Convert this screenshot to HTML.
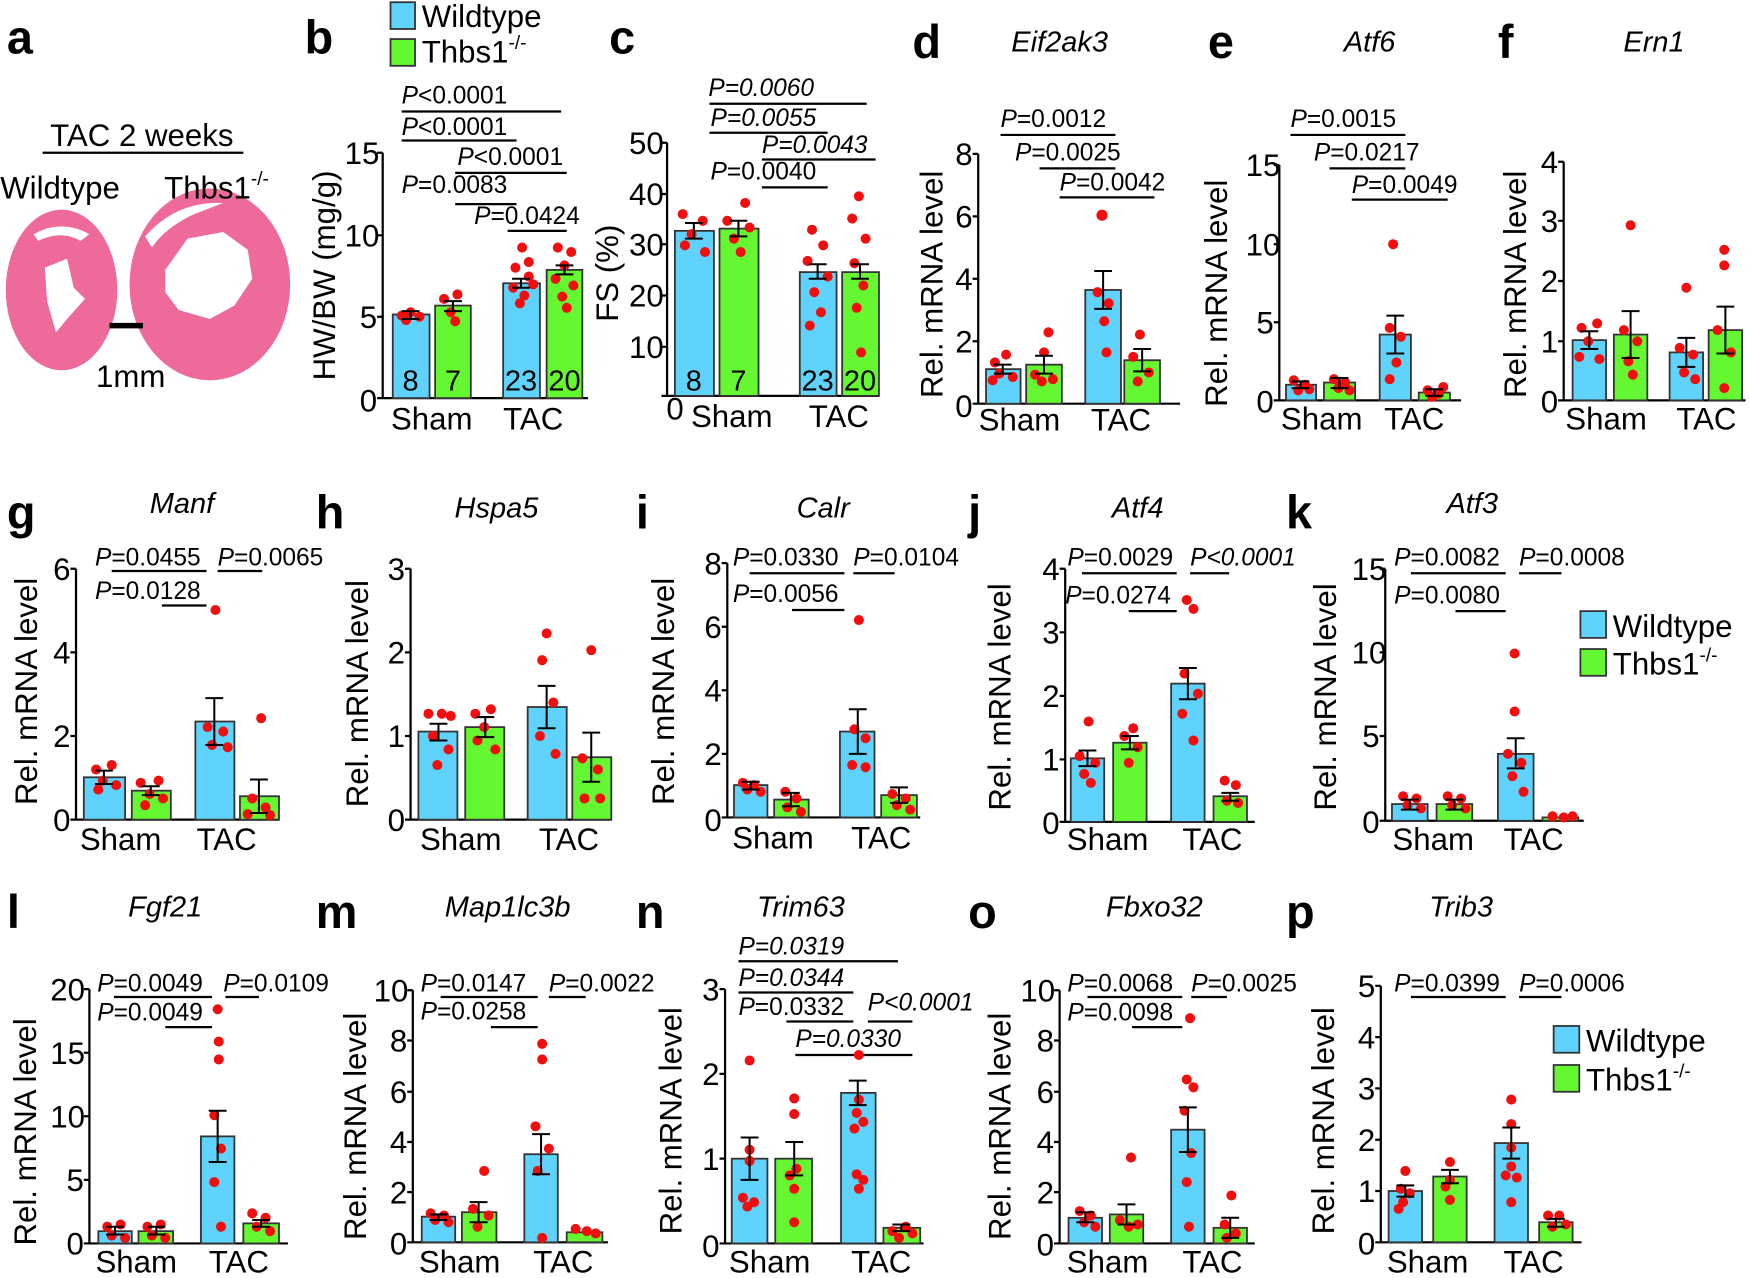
<!DOCTYPE html>
<html><head><meta charset="utf-8"><style>
html,body{margin:0;padding:0;background:#fff}
svg{display:block}
text{font-family:"Liberation Sans",Arial,sans-serif;fill:#000}
.L{font-size:42px;font-weight:bold}
.tk{font-size:28px;text-anchor:end}
.ct{font-size:28px;text-anchor:middle}
.yl{font-size:28px;text-anchor:middle}
.ti{font-size:26px;font-style:italic;text-anchor:middle}
.pv{font-size:22px}
.nn{font-size:26px;text-anchor:middle}
.lg{font-size:28px}
.w{fill:#5fd3fb;stroke:#333;stroke-width:1.6}
.k{fill:#66f733;stroke:#333;stroke-width:1.6}
.ax{stroke:#000;stroke-width:2;fill:none}
.sl{stroke:#000;stroke-width:2}
.eb{stroke:#000;stroke-width:1.8;fill:none}
circle{fill:#f00e0e}
</style></head><body>
<svg width="1749" height="1278" viewBox="0 0 1568 1146" xmlns="http://www.w3.org/2000/svg">

<!-- a -->
<ellipse cx="55" cy="260" rx="50" ry="72" fill="#ee6a9a"/>
<path d="M40 240 L60 232 L66 258 L76 268 L60 286 L50 298 L42 270 Z" fill="#fff"/>
<path d="M30 210 Q55 196 80 210 L72 216 Q55 206 34 216Z" fill="#fff"/>
<ellipse cx="188" cy="255" rx="72" ry="86" fill="#ee6a9a"/>
<path d="M148 242 L168 214 L200 208 L222 224 L226 250 L210 274 L188 286 L160 278 L148 262 Z" fill="#fff"/>
<path d="M130 212 Q158 180 200 182 L174 192 Q148 204 136 222Z" fill="#fff"/>
<text class="L" x="6" y="48">a</text>
<text x="127" y="131" font-size="28" text-anchor="middle">TAC 2 weeks</text>
<line x1="38" y1="137" x2="218" y2="137" class="sl"/>
<text x="0" y="178" font-size="28">Wildtype</text>
<text x="147" y="178" font-size="28">Thbs1<tspan font-size="17" dy="-12">-/-</tspan></text>
<line x1="98" y1="292" x2="128" y2="292" stroke="#000" stroke-width="5"/>
<text x="117" y="347" font-size="28" text-anchor="middle">1mm</text>

<!-- b -->
<text class="L" x="273" y="48">b</text>
<rect x="350" y="2" width="22" height="24" class="w"/><text class="lg" x="378" y="24">Wildtype</text>
<rect x="350" y="35" width="22" height="24" class="k"/><text class="lg" x="378" y="56">Thbs1<tspan font-size="17" dy="-12">-/-</tspan></text>
<text class="pv" x="360" y="93"><tspan font-style="italic">P</tspan>&lt;0.0001</text><line x1="360" y1="100" x2="503" y2="100" class="sl"/>
<text class="pv" x="360" y="121"><tspan font-style="italic">P</tspan>&lt;0.0001</text><line x1="360" y1="126" x2="463" y2="126" class="sl"/>
<text class="pv" x="410" y="148"><tspan font-style="italic">P</tspan>&lt;0.0001</text><line x1="408" y1="155" x2="508" y2="155" class="sl"/>
<text class="pv" x="360" y="173"><tspan font-style="italic">P</tspan>=0.0083</text><line x1="408" y1="183" x2="463" y2="183" class="sl"/>
<text class="pv" x="425" y="201"><tspan font-style="italic">P</tspan>=0.0424</text><line x1="455" y1="207" x2="508" y2="207" class="sl"/>
<path class="ax" d="M343 137 V357 H527 M338 137 H343 M338 211 H343 M338 284 H343 M338 357 H343"/>
<text class="tk" x="340" y="147">15</text><text class="tk" x="340" y="221">10</text><text class="tk" x="338" y="294">5</text><text class="tk" x="338" y="369">0</text>
<text class="yl" transform="translate(300,247) rotate(-90)">HW/BW (mg/g)</text>
<rect x="352" y="282" width="33" height="75" class="w"/><rect x="390" y="274" width="32" height="83" class="k"/>
<rect x="451" y="254" width="33" height="103" class="w"/><rect x="490" y="242" width="32" height="115" class="k"/>
<text class="nn" x="368" y="350">8</text><text class="nn" x="406" y="350">7</text><text class="nn" x="467" y="350">23</text><text class="nn" x="506" y="350">20</text>
<circle cx="360" cy="283" r="4.5"/><circle cx="368" cy="280" r="4.5"/><circle cx="376" cy="284" r="4.5"/><circle cx="364" cy="287" r="4.5"/>
<circle cx="398" cy="268" r="4.5"/><circle cx="410" cy="264" r="4.5"/><circle cx="404" cy="280" r="4.5"/><circle cx="408" cy="288" r="4.5"/>
<circle cx="468" cy="222" r="4.5"/><circle cx="462" cy="240" r="4.5"/><circle cx="474" cy="248" r="4.5"/><circle cx="460" cy="258" r="4.5"/><circle cx="470" cy="265" r="4.5"/><circle cx="478" cy="255" r="4.5"/><circle cx="466" cy="272" r="4.5"/><circle cx="474" cy="235" r="4.5"/>
<circle cx="500" cy="222" r="4.5"/><circle cx="512" cy="226" r="4.5"/><circle cx="506" cy="238" r="4.5"/><circle cx="498" cy="250" r="4.5"/><circle cx="514" cy="256" r="4.5"/><circle cx="504" cy="266" r="4.5"/><circle cx="508" cy="276" r="4.5"/>
<path class="eb" d="M368 279 V286 M360 279 H376 M360 286 H376 M406 270 V279 M398 270 H414 M398 279 H414 M467 250 V258 M459 250 H475 M459 258 H475 M506 238 V246 M498 238 H514 M498 246 H514"/>
<text class="ct" x="387" y="385">Sham</text><text class="ct" x="478" y="385">TAC</text>

<!-- c -->
<text class="L" x="546" y="48">c</text>
<text class="pv" x="635" y="86" font-style="italic">P=0.0060</text><line x1="636" y1="93" x2="777" y2="93" class="sl"/>
<text class="pv" x="637" y="113" font-style="italic">P=0.0055</text><line x1="636" y1="119" x2="742" y2="119" class="sl"/>
<text class="pv" x="683" y="137" font-style="italic">P=0.0043</text><line x1="683" y1="143" x2="785" y2="143" class="sl"/>
<text class="pv" x="637" y="161"><tspan font-style="italic">P</tspan>=0.0040</text><line x1="683" y1="168" x2="742" y2="168" class="sl"/>
<path class="ax" d="M598 128 V355 H788 M593 128 H598 M593 174 H598 M593 219 H598 M593 265 H598 M593 311 H598 M593 355 H598"/>
<text class="tk" x="595" y="138">50</text><text class="tk" x="595" y="184">40</text><text class="tk" x="595" y="229">30</text><text class="tk" x="595" y="275">20</text><text class="tk" x="595" y="321">10</text><text class="tk" x="613" y="376">0</text>
<text class="yl" transform="translate(554,245) rotate(-90)">FS (%)</text>
<rect x="605" y="207" width="35" height="148" class="w"/><rect x="645" y="205" width="35" height="150" class="k"/>
<rect x="717" y="244" width="33" height="111" class="w"/><rect x="755" y="244" width="33" height="111" class="k"/>
<text class="nn" x="622" y="350">8</text><text class="nn" x="662" y="350">7</text><text class="nn" x="733" y="350">23</text><text class="nn" x="771" y="350">20</text>
<circle cx="612" cy="192" r="4.5"/><circle cx="630" cy="198" r="4.5"/><circle cx="620" cy="210" r="4.5"/><circle cx="614" cy="220" r="4.5"/><circle cx="632" cy="226" r="4.5"/>
<circle cx="652" cy="198" r="4.5"/><circle cx="668" cy="182" r="4.5"/><circle cx="672" cy="204" r="4.5"/><circle cx="658" cy="214" r="4.5"/><circle cx="664" cy="226" r="4.5"/>
<circle cx="728" cy="206" r="4.5"/><circle cx="738" cy="220" r="4.5"/><circle cx="724" cy="234" r="4.5"/><circle cx="742" cy="248" r="4.5"/><circle cx="730" cy="262" r="4.5"/><circle cx="736" cy="280" r="4.5"/><circle cx="726" cy="292" r="4.5"/>
<circle cx="770" cy="176" r="4.5"/><circle cx="764" cy="196" r="4.5"/><circle cx="776" cy="214" r="4.5"/><circle cx="766" cy="236" r="4.5"/><circle cx="774" cy="256" r="4.5"/><circle cx="768" cy="276" r="4.5"/><circle cx="772" cy="316" r="4.5"/>
<path class="eb" d="M622 200 V214 M614 200 H630 M614 214 H630 M662 198 V212 M654 198 H670 M654 212 H670 M733 237 V250 M725 237 H741 M725 250 H741 M771 237 V250 M763 237 H779 M763 250 H779"/>
<text class="ct" x="656" y="383">Sham</text><text class="ct" x="752" y="383">TAC</text>

<!-- d -->
<text class="L" x="818" y="52">d</text><text class="ti" x="950" y="46">Eif2ak3</text>
<text class="pv" x="897" y="114"><tspan font-style="italic">P</tspan>=0.0012</text><line x1="897" y1="121" x2="1000" y2="121" class="sl"/>
<text class="pv" x="910" y="144"><tspan font-style="italic">P</tspan>=0.0025</text><line x1="932" y1="151" x2="1000" y2="151" class="sl"/>
<text class="pv" x="950" y="171"><tspan font-style="italic">P</tspan>=0.0042</text><line x1="950" y1="177" x2="1035" y2="177" class="sl"/>
<path class="ax" d="M877 138 V362 H1058 M872 138 H877 M872 194 H877 M872 250 H877 M872 306 H877 M872 362 H877"/>
<text class="tk" x="872" y="148">8</text><text class="tk" x="872" y="204">6</text><text class="tk" x="872" y="260">4</text><text class="tk" x="872" y="316">2</text><text class="tk" x="872" y="374">0</text>
<text class="yl" transform="translate(845,255) rotate(-90)">Rel. mRNA level</text>
<rect x="884" y="331" width="31" height="31" class="w"/><rect x="920" y="327" width="32" height="35" class="k"/>
<rect x="973" y="260" width="32" height="102" class="w"/><rect x="1008" y="323" width="32" height="39" class="k"/>
<circle cx="892" cy="325" r="4.5"/><circle cx="902" cy="318" r="4.5"/><circle cx="896" cy="335" r="4.5"/><circle cx="908" cy="338" r="4.5"/><circle cx="890" cy="341" r="4.5"/>
<circle cx="940" cy="298" r="4.5"/><circle cx="936" cy="316" r="4.5"/><circle cx="928" cy="336" r="4.5"/><circle cx="944" cy="340" r="4.5"/><circle cx="934" cy="342" r="4.5"/>
<circle cx="988" cy="193" r="5"/><circle cx="984" cy="262" r="4.5"/><circle cx="994" cy="272" r="4.5"/><circle cx="990" cy="288" r="4.5"/><circle cx="992" cy="316" r="4.5"/>
<circle cx="1022" cy="300" r="4.5"/><circle cx="1016" cy="320" r="4.5"/><circle cx="1030" cy="334" r="4.5"/><circle cx="1020" cy="342" r="4.5"/>
<path class="eb" d="M899 327 V335 M891 327 H907 M891 335 H907 M936 319 V335 M928 319 H944 M928 335 H944 M989 243 V277 M981 243 H997 M981 277 H997 M1024 313 V333 M1016 313 H1032 M1016 333 H1032"/>
<text class="ct" x="914" y="386">Sham</text><text class="ct" x="1005" y="386">TAC</text>

<!-- e -->
<text class="L" x="1083" y="52">e</text><text class="ti" x="1228" y="46">Atf6</text>
<text class="pv" x="1157" y="114"><tspan font-style="italic">P</tspan>=0.0015</text><line x1="1157" y1="121" x2="1260" y2="121" class="sl"/>
<text class="pv" x="1178" y="144"><tspan font-style="italic">P</tspan>=0.0217</text><line x1="1192" y1="151" x2="1260" y2="151" class="sl"/>
<text class="pv" x="1212" y="173"><tspan font-style="italic">P</tspan>=0.0049</text><line x1="1212" y1="179" x2="1298" y2="179" class="sl"/>
<path class="ax" d="M1147 148 V359 H1310 M1142 148 H1147 M1142 219 H1147 M1142 289 H1147 M1142 359 H1147"/>
<text class="tk" x="1148" y="158">15</text><text class="tk" x="1148" y="229">10</text><text class="tk" x="1142" y="299">5</text><text class="tk" x="1142" y="370">0</text>
<text class="yl" transform="translate(1100,263) rotate(-90)">Rel. mRNA level</text>
<rect x="1153" y="345" width="27" height="14" class="w"/><rect x="1187" y="343" width="28" height="16" class="k"/>
<rect x="1237" y="300" width="28" height="59" class="w"/><rect x="1272" y="352" width="28" height="7" class="k"/>
<circle cx="1160" cy="341" r="4.5"/><circle cx="1170" cy="345" r="4.5"/><circle cx="1164" cy="350" r="4.5"/><circle cx="1174" cy="349" r="4.5"/>
<circle cx="1196" cy="340" r="4.5"/><circle cx="1206" cy="343" r="4.5"/><circle cx="1200" cy="348" r="4.5"/><circle cx="1210" cy="350" r="4.5"/>
<circle cx="1249" cy="219" r="4.5"/><circle cx="1246" cy="294" r="4.5"/><circle cx="1256" cy="302" r="4.5"/><circle cx="1252" cy="325" r="4.5"/><circle cx="1246" cy="340" r="4.5"/>
<circle cx="1280" cy="350" r="4.5"/><circle cx="1290" cy="353" r="4.5"/><circle cx="1284" cy="356" r="4.5"/><circle cx="1294" cy="347" r="4.5"/>
<path class="eb" d="M1166 342 V348 M1158 342 H1174 M1158 348 H1174 M1201 339 V348 M1193 339 H1209 M1193 348 H1209 M1251 283 V317 M1243 283 H1259 M1243 317 H1259 M1286 349 V355 M1278 349 H1294 M1278 355 H1294"/>
<text class="ct" x="1185" y="385">Sham</text><text class="ct" x="1268" y="385">TAC</text>

<!-- f -->
<text class="L" x="1343" y="52">f</text><text class="ti" x="1483" y="46">Ern1</text>
<path class="ax" d="M1402 145 V359 H1565 M1397 145 H1402 M1397 198 H1402 M1397 252 H1402 M1397 306 H1402 M1397 359 H1402"/>
<text class="tk" x="1397" y="155">4</text><text class="tk" x="1397" y="208">3</text><text class="tk" x="1397" y="262">2</text><text class="tk" x="1397" y="316">1</text><text class="tk" x="1397" y="370">0</text>
<text class="yl" transform="translate(1368,255) rotate(-90)">Rel. mRNA level</text>
<rect x="1410" y="305" width="30" height="54" class="w"/><rect x="1447" y="300" width="30" height="59" class="k"/>
<rect x="1497" y="316" width="30" height="43" class="w"/><rect x="1532" y="296" width="30" height="63" class="k"/>
<circle cx="1418" cy="294" r="4.5"/><circle cx="1432" cy="290" r="4.5"/><circle cx="1424" cy="306" r="4.5"/><circle cx="1416" cy="320" r="4.5"/><circle cx="1434" cy="322" r="4.5"/>
<circle cx="1462" cy="202" r="4.5"/><circle cx="1456" cy="296" r="4.5"/><circle cx="1468" cy="306" r="4.5"/><circle cx="1460" cy="324" r="4.5"/><circle cx="1464" cy="336" r="4.5"/>
<circle cx="1512" cy="258" r="4.5"/><circle cx="1506" cy="312" r="4.5"/><circle cx="1518" cy="318" r="4.5"/><circle cx="1510" cy="334" r="4.5"/><circle cx="1520" cy="340" r="4.5"/>
<circle cx="1546" cy="224" r="4.5"/><circle cx="1546" cy="238" r="4.5"/><circle cx="1540" cy="296" r="4.5"/><circle cx="1552" cy="316" r="4.5"/><circle cx="1546" cy="348" r="4.5"/>
<path class="eb" d="M1425 297 V313 M1417 297 H1433 M1417 313 H1433 M1462 279 V321 M1454 279 H1470 M1454 321 H1470 M1512 303 V329 M1504 303 H1520 M1504 329 H1520 M1547 275 V317 M1539 275 H1555 M1539 317 H1555"/>
<text class="ct" x="1440" y="385">Sham</text><text class="ct" x="1530" y="385">TAC</text>

<!-- g -->
<text class="L" x="6" y="474">g</text><text class="ti" x="163" y="460">Manf</text>
<text class="pv" x="85" y="507"><tspan font-style="italic">P</tspan>=0.0455</text><line x1="100" y1="512" x2="185" y2="512" class="sl"/>
<text class="pv" x="85" y="537"><tspan font-style="italic">P</tspan>=0.0128</text><line x1="145" y1="543" x2="185" y2="543" class="sl"/>
<text class="pv" x="195" y="507"><tspan font-style="italic">P</tspan>=0.0065</text><line x1="195" y1="512" x2="235" y2="512" class="sl"/>
<path class="ax" d="M68 510 V735 H250 M63 510 H68 M63 585 H68 M63 660 H68 M63 735 H68"/>
<text class="tk" x="63" y="520">6</text><text class="tk" x="63" y="595">4</text><text class="tk" x="63" y="670">2</text><text class="tk" x="63" y="745">0</text>
<text class="yl" transform="translate(33,620) rotate(-90)">Rel. mRNA level</text>
<rect x="75" y="697" width="37" height="38" class="w"/><rect x="118" y="709" width="35" height="26" class="k"/>
<rect x="175" y="647" width="35" height="88" class="w"/><rect x="215" y="714" width="35" height="21" class="k"/>
<circle cx="86" cy="690" r="4.5"/><circle cx="100" cy="686" r="4.5"/><circle cx="92" cy="700" r="4.5"/><circle cx="104" cy="704" r="4.5"/><circle cx="88" cy="708" r="4.5"/>
<circle cx="126" cy="702" r="4.5"/><circle cx="142" cy="700" r="4.5"/><circle cx="134" cy="712" r="4.5"/><circle cx="146" cy="716" r="4.5"/><circle cx="130" cy="722" r="4.5"/>
<circle cx="193" cy="547" r="4.5"/><circle cx="186" cy="652" r="4.5"/><circle cx="200" cy="656" r="4.5"/><circle cx="190" cy="668" r="4.5"/><circle cx="204" cy="670" r="4.5"/>
<circle cx="234" cy="644" r="4.5"/><circle cx="226" cy="716" r="4.5"/><circle cx="238" cy="724" r="4.5"/><circle cx="222" cy="730" r="4.5"/><circle cx="242" cy="731" r="4.5"/>
<path class="eb" d="M93 691 V703 M85 691 H101 M85 703 H101 M135 705 V713 M127 705 H143 M127 713 H143 M192 626 V668 M184 626 H200 M184 668 H200 M232 699 V729 M224 699 H240 M224 729 H240"/>
<text class="ct" x="108" y="762">Sham</text><text class="ct" x="203" y="762">TAC</text>

<!-- h -->
<text class="L" x="283" y="474">h</text><text class="ti" x="445" y="464">Hspa5</text>
<path class="ax" d="M368 510 V735 H548 M363 510 H368 M363 585 H368 M363 660 H368 M363 735 H368"/>
<text class="tk" x="363" y="520">3</text><text class="tk" x="363" y="595">2</text><text class="tk" x="363" y="670">1</text><text class="tk" x="363" y="745">0</text>
<text class="yl" transform="translate(330,622) rotate(-90)">Rel. mRNA level</text>
<rect x="375" y="656" width="35" height="79" class="w"/><rect x="417" y="652" width="35" height="83" class="k"/>
<rect x="473" y="634" width="35" height="101" class="w"/><rect x="513" y="679" width="35" height="56" class="k"/>
<circle cx="384" cy="640" r="4.5"/><circle cx="396" cy="640" r="4.5"/><circle cx="404" cy="642" r="4.5"/><circle cx="388" cy="660" r="4.5"/><circle cx="392" cy="686" r="4.5"/><circle cx="402" cy="672" r="4.5"/>
<circle cx="426" cy="640" r="4.5"/><circle cx="440" cy="636" r="4.5"/><circle cx="434" cy="652" r="4.5"/><circle cx="428" cy="664" r="4.5"/><circle cx="444" cy="672" r="4.5"/>
<circle cx="490" cy="568" r="4.5"/><circle cx="486" cy="592" r="4.5"/><circle cx="496" cy="630" r="4.5"/><circle cx="484" cy="660" r="4.5"/><circle cx="498" cy="676" r="4.5"/>
<circle cx="530" cy="583" r="4.5"/><circle cx="522" cy="680" r="4.5"/><circle cx="536" cy="690" r="4.5"/><circle cx="524" cy="716" r="4.5"/><circle cx="538" cy="716" r="4.5"/>
<path class="eb" d="M393 649 V664 M385 649 H401 M385 664 H401 M435 643 V661 M427 643 H443 M427 661 H443 M490 615 V653 M482 615 H498 M482 653 H498 M530 657 V701 M522 657 H538 M522 701 H538"/>
<text class="ct" x="413" y="762">Sham</text><text class="ct" x="510" y="762">TAC</text>

<!-- i -->
<text class="L" x="570" y="474">i</text><text class="ti" x="738" y="464">Calr</text>
<text class="pv" x="657" y="507"><tspan font-style="italic">P</tspan>=0.0330</text><line x1="672" y1="514" x2="757" y2="514" class="sl"/>
<text class="pv" x="657" y="540"><tspan font-style="italic">P</tspan>=0.0056</text><line x1="710" y1="547" x2="757" y2="547" class="sl"/>
<text class="pv" x="765" y="507"><tspan font-style="italic">P</tspan>=0.0104</text><line x1="765" y1="514" x2="802" y2="514" class="sl"/>
<path class="ax" d="M652 505 V733 H825 M647 505 H652 M647 562 H652 M647 619 H652 M647 676 H652 M647 733 H652"/>
<text class="tk" x="647" y="515">8</text><text class="tk" x="647" y="572">6</text><text class="tk" x="647" y="629">4</text><text class="tk" x="647" y="686">2</text><text class="tk" x="647" y="745">0</text>
<text class="yl" transform="translate(604,620) rotate(-90)">Rel. mRNA level</text>
<rect x="658" y="704" width="30" height="29" class="w"/><rect x="694" y="717" width="31" height="16" class="k"/>
<rect x="753" y="656" width="31" height="77" class="w"/><rect x="790" y="713" width="32" height="20" class="k"/>
<circle cx="666" cy="702" r="4.5"/><circle cx="676" cy="704" r="4.5"/><circle cx="670" cy="708" r="4.5"/><circle cx="682" cy="710" r="4.5"/>
<circle cx="704" cy="710" r="4.5"/><circle cx="714" cy="716" r="4.5"/><circle cx="706" cy="724" r="4.5"/><circle cx="718" cy="728" r="4.5"/>
<circle cx="770" cy="556" r="4.5"/><circle cx="766" cy="654" r="4.5"/><circle cx="776" cy="662" r="4.5"/><circle cx="764" cy="686" r="4.5"/><circle cx="776" cy="688" r="4.5"/>
<circle cx="800" cy="712" r="4.5"/><circle cx="812" cy="716" r="4.5"/><circle cx="804" cy="722" r="4.5"/><circle cx="816" cy="726" r="4.5"/>
<path class="eb" d="M673 701 V708 M665 701 H681 M665 708 H681 M709 711 V723 M701 711 H717 M701 723 H717 M769 636 V676 M761 636 H777 M761 676 H777 M806 706 V720 M798 706 H814 M798 720 H814"/>
<text class="ct" x="693" y="761">Sham</text><text class="ct" x="790" y="761">TAC</text>

<!-- j -->
<text class="L" x="868" y="474">j</text><text class="ti" x="1020" y="464">Atf4</text>
<text class="pv" x="957" y="507"><tspan font-style="italic">P</tspan>=0.0029</text><line x1="970" y1="514" x2="1055" y2="514" class="sl"/>
<text class="pv" x="955" y="541"><tspan font-style="italic">P</tspan>=0.0274</text><line x1="1012" y1="548" x2="1055" y2="548" class="sl"/>
<text class="pv" x="1067" y="507" font-style="italic">P&lt;0.0001</text><line x1="1067" y1="514" x2="1102" y2="514" class="sl"/>
<path class="ax" d="M955 510 V737 H1125 M950 510 H955 M950 567 H955 M950 624 H955 M950 681 H955 M950 737 H955"/>
<text class="tk" x="950" y="520">4</text><text class="tk" x="950" y="577">3</text><text class="tk" x="950" y="634">2</text><text class="tk" x="950" y="691">1</text><text class="tk" x="950" y="748">0</text>
<text class="yl" transform="translate(906,625) rotate(-90)">Rel. mRNA level</text>
<rect x="960" y="680" width="30" height="57" class="w"/><rect x="998" y="666" width="30" height="71" class="k"/>
<rect x="1050" y="613" width="30" height="124" class="w"/><rect x="1088" y="714" width="30" height="23" class="k"/>
<circle cx="976" cy="647" r="4.5"/><circle cx="968" cy="678" r="4.5"/><circle cx="982" cy="684" r="4.5"/><circle cx="972" cy="694" r="4.5"/><circle cx="978" cy="702" r="4.5"/>
<circle cx="1016" cy="653" r="4.5"/><circle cx="1008" cy="660" r="4.5"/><circle cx="1020" cy="670" r="4.5"/><circle cx="1012" cy="684" r="4.5"/>
<circle cx="1064" cy="538" r="4.5"/><circle cx="1070" cy="546" r="4.5"/><circle cx="1062" cy="604" r="4.5"/><circle cx="1074" cy="622" r="4.5"/><circle cx="1060" cy="640" r="4.5"/><circle cx="1070" cy="664" r="4.5"/>
<circle cx="1098" cy="700" r="4.5"/><circle cx="1108" cy="704" r="4.5"/><circle cx="1100" cy="718" r="4.5"/><circle cx="1110" cy="720" r="4.5"/>
<path class="eb" d="M975 673 V687 M967 673 H983 M967 687 H983 M1013 660 V672 M1005 660 H1021 M1005 672 H1021 M1065 599 V627 M1057 599 H1073 M1057 627 H1073 M1103 711 V718 M1095 711 H1111 M1095 718 H1111"/>
<text class="ct" x="993" y="762">Sham</text><text class="ct" x="1087" y="762">TAC</text>

<!-- k -->
<text class="L" x="1153" y="474">k</text><text class="ti" x="1320" y="460">Atf3</text>
<text class="pv" x="1250" y="507"><tspan font-style="italic">P</tspan>=0.0082</text><line x1="1265" y1="514" x2="1350" y2="514" class="sl"/>
<text class="pv" x="1250" y="541"><tspan font-style="italic">P</tspan>=0.0080</text><line x1="1305" y1="548" x2="1350" y2="548" class="sl"/>
<text class="pv" x="1362" y="507"><tspan font-style="italic">P</tspan>=0.0008</text><line x1="1362" y1="514" x2="1400" y2="514" class="sl"/>
<path class="ax" d="M1242 510 V736 H1420 M1237 510 H1242 M1237 585 H1242 M1237 660 H1242 M1237 736 H1242"/>
<text class="tk" x="1243" y="520">15</text><text class="tk" x="1243" y="595">10</text><text class="tk" x="1237" y="670">5</text><text class="tk" x="1237" y="747">0</text>
<text class="yl" transform="translate(1198,625) rotate(-90)">Rel. mRNA level</text>
<rect x="1248" y="721" width="32" height="15" class="w"/><rect x="1288" y="721" width="32" height="15" class="k"/>
<rect x="1343" y="676" width="32" height="60" class="w"/><rect x="1383" y="733" width="32" height="3" class="k"/>
<circle cx="1258" cy="714" r="4.5"/><circle cx="1270" cy="716" r="4.5"/><circle cx="1262" cy="722" r="4.5"/><circle cx="1274" cy="725" r="4.5"/>
<circle cx="1298" cy="714" r="4.5"/><circle cx="1310" cy="716" r="4.5"/><circle cx="1302" cy="722" r="4.5"/><circle cx="1314" cy="725" r="4.5"/>
<circle cx="1358" cy="586" r="4.5"/><circle cx="1358" cy="638" r="4.5"/><circle cx="1352" cy="676" r="4.5"/><circle cx="1364" cy="684" r="4.5"/><circle cx="1356" cy="696" r="4.5"/><circle cx="1366" cy="710" r="4.5"/>
<circle cx="1392" cy="732" r="4.5"/><circle cx="1402" cy="733" r="4.5"/><circle cx="1410" cy="732" r="4.5"/>
<path class="eb" d="M1264 717 V726 M1256 717 H1272 M1256 726 H1272 M1304 717 V726 M1296 717 H1312 M1296 726 H1312 M1359 662 V689 M1351 662 H1367 M1351 689 H1367"/>
<text class="ct" x="1285" y="762">Sham</text><text class="ct" x="1375" y="762">TAC</text>
<rect x="1417" y="548" width="23" height="24" class="w"/><text class="lg" x="1446" y="571">Wildtype</text>
<rect x="1417" y="582" width="23" height="24" class="k"/><text class="lg" x="1446" y="605">Thbs1<tspan font-size="17" dy="-12">-/-</tspan></text>

<!-- l -->
<text class="L" x="6" y="832">l</text><text class="ti" x="148" y="822">Fgf21</text>
<text class="pv" x="87" y="889"><tspan font-style="italic">P</tspan>=0.0049</text><line x1="102" y1="894" x2="190" y2="894" class="sl"/>
<text class="pv" x="87" y="915"><tspan font-style="italic">P</tspan>=0.0049</text><line x1="148" y1="921" x2="190" y2="921" class="sl"/>
<text class="pv" x="200" y="889"><tspan font-style="italic">P</tspan>=0.0109</text><line x1="202" y1="894" x2="232" y2="894" class="sl"/>
<path class="ax" d="M80 887 V1115 H258 M75 887 H80 M75 944 H80 M75 1001 H80 M75 1058 H80 M75 1115 H80"/>
<text class="tk" x="76" y="897">20</text><text class="tk" x="76" y="954">15</text><text class="tk" x="76" y="1011">10</text><text class="tk" x="75" y="1068">5</text><text class="tk" x="75" y="1125">0</text>
<text class="yl" transform="translate(32,1015) rotate(-90)">Rel. mRNA level</text>
<rect x="88" y="1104" width="30" height="11" class="w"/><rect x="124" y="1104" width="31" height="11" class="k"/>
<rect x="180" y="1019" width="30" height="96" class="w"/><rect x="218" y="1097" width="32" height="18" class="k"/>
<circle cx="96" cy="1100" r="4.5"/><circle cx="108" cy="1098" r="4.5"/><circle cx="100" cy="1108" r="4.5"/><circle cx="112" cy="1110" r="4.5"/>
<circle cx="132" cy="1100" r="4.5"/><circle cx="144" cy="1098" r="4.5"/><circle cx="136" cy="1108" r="4.5"/><circle cx="148" cy="1110" r="4.5"/>
<circle cx="195" cy="905" r="4.5"/><circle cx="196" cy="934" r="4.5"/><circle cx="196" cy="950" r="4.5"/><circle cx="192" cy="1000" r="4.5"/><circle cx="198" cy="1030" r="4.5"/><circle cx="192" cy="1060" r="4.5"/><circle cx="198" cy="1100" r="4.5"/>
<circle cx="226" cy="1088" r="4.5"/><circle cx="238" cy="1092" r="4.5"/><circle cx="230" cy="1100" r="4.5"/><circle cx="242" cy="1104" r="4.5"/>
<path class="eb" d="M103 1100 V1107 M95 1100 H111 M95 1107 H111 M140 1100 V1107 M132 1100 H148 M132 1107 H148 M195 996 V1042 M187 996 H203 M187 1042 H203 M234 1094 V1100 M226 1094 H242 M226 1100 H242"/>
<text class="ct" x="122" y="1141">Sham</text><text class="ct" x="214" y="1141">TAC</text>

<!-- m -->
<text class="L" x="283" y="832">m</text><text class="ti" x="455" y="822">Map1lc3b</text>
<text class="pv" x="377" y="889"><tspan font-style="italic">P</tspan>=0.0147</text><line x1="395" y1="894" x2="482" y2="894" class="sl"/>
<text class="pv" x="377" y="914"><tspan font-style="italic">P</tspan>=0.0258</text><line x1="440" y1="921" x2="482" y2="921" class="sl"/>
<text class="pv" x="492" y="889"><tspan font-style="italic">P</tspan>=0.0022</text><line x1="492" y1="894" x2="525" y2="894" class="sl"/>
<path class="ax" d="M370 888 V1114 H545 M365 888 H370 M365 933 H370 M365 979 H370 M365 1024 H370 M365 1069 H370 M365 1114 H370"/>
<text class="tk" x="366" y="898">10</text><text class="tk" x="365" y="943">8</text><text class="tk" x="365" y="989">6</text><text class="tk" x="365" y="1034">4</text><text class="tk" x="365" y="1079">2</text><text class="tk" x="365" y="1125">0</text>
<text class="yl" transform="translate(328,1010) rotate(-90)">Rel. mRNA level</text>
<rect x="378" y="1091" width="30" height="23" class="w"/><rect x="414" y="1087" width="31" height="27" class="k"/>
<rect x="470" y="1035" width="30" height="79" class="w"/><rect x="508" y="1105" width="32" height="9" class="k"/>
<circle cx="386" cy="1088" r="4.5"/><circle cx="398" cy="1090" r="4.5"/><circle cx="390" cy="1094" r="4.5"/><circle cx="402" cy="1096" r="4.5"/>
<circle cx="434" cy="1050" r="4.5"/><circle cx="424" cy="1084" r="4.5"/><circle cx="438" cy="1090" r="4.5"/><circle cx="428" cy="1100" r="4.5"/>
<circle cx="486" cy="936" r="4.5"/><circle cx="486" cy="950" r="4.5"/><circle cx="480" cy="1010" r="4.5"/><circle cx="492" cy="1030" r="4.5"/><circle cx="482" cy="1050" r="4.5"/><circle cx="486" cy="1110" r="4.5"/>
<circle cx="516" cy="1102" r="4.5"/><circle cx="526" cy="1104" r="4.5"/><circle cx="534" cy="1106" r="4.5"/>
<path class="eb" d="M393 1089 V1094 M385 1089 H401 M385 1094 H401 M429 1078 V1096 M421 1078 H437 M421 1096 H437 M485 1017 V1053 M477 1017 H493 M477 1053 H493"/>
<text class="ct" x="412" y="1141">Sham</text><text class="ct" x="505" y="1141">TAC</text>

<!-- n -->
<text class="L" x="570" y="832">n</text><text class="ti" x="718" y="822">Trim63</text>
<text class="pv" x="662" y="856" font-style="italic">P=0.0319</text><line x1="662" y1="862" x2="805" y2="862" class="sl"/>
<text class="pv" x="662" y="884" font-style="italic">P=0.0344</text><line x1="662" y1="890" x2="765" y2="890" class="sl"/>
<text class="pv" x="662" y="910"><tspan font-style="italic">P</tspan>=0.0332</text><line x1="705" y1="916" x2="765" y2="916" class="sl"/>
<text class="pv" x="778" y="906" font-style="italic">P&lt;0.0001</text><line x1="778" y1="916" x2="818" y2="916" class="sl"/>
<text class="pv" x="713" y="939" font-style="italic">P=0.0330</text><line x1="713" y1="946" x2="818" y2="946" class="sl"/>
<path class="ax" d="M650 887 V1115 H828 M645 887 H650 M645 963 H650 M645 1039 H650 M645 1115 H650"/>
<text class="tk" x="645" y="897">3</text><text class="tk" x="645" y="973">2</text><text class="tk" x="645" y="1049">1</text><text class="tk" x="645" y="1127">0</text>
<text class="yl" transform="translate(611,1005) rotate(-90)">Rel. mRNA level</text>
<rect x="656" y="1039" width="32" height="76" class="w"/><rect x="695" y="1039" width="33" height="76" class="k"/>
<rect x="754" y="980" width="31" height="135" class="w"/><rect x="792" y="1101" width="33" height="14" class="k"/>
<circle cx="672" cy="951" r="4.5"/><circle cx="672" cy="1031" r="4.5"/><circle cx="672" cy="1041" r="4.5"/><circle cx="666" cy="1074" r="4.5"/><circle cx="676" cy="1078" r="4.5"/><circle cx="670" cy="1082" r="4.5"/>
<circle cx="712" cy="985" r="4.5"/><circle cx="712" cy="999" r="4.5"/><circle cx="714" cy="1048" r="4.5"/><circle cx="708" cy="1054" r="4.5"/><circle cx="712" cy="1066" r="4.5"/><circle cx="712" cy="1096" r="4.5"/>
<circle cx="770" cy="946" r="4.5"/><circle cx="770" cy="986" r="4.5"/><circle cx="768" cy="998" r="4.5"/><circle cx="774" cy="1006" r="4.5"/><circle cx="766" cy="1012" r="4.5"/><circle cx="768" cy="1053" r="4.5"/><circle cx="774" cy="1058" r="4.5"/><circle cx="770" cy="1066" r="4.5"/>
<circle cx="800" cy="1104" r="4.5"/><circle cx="812" cy="1100" r="4.5"/><circle cx="806" cy="1110" r="4.5"/><circle cx="818" cy="1106" r="4.5"/>
<path class="eb" d="M672 1020 V1058 M664 1020 H680 M664 1058 H680 M712 1024 V1054 M704 1024 H720 M704 1054 H720 M769 969 V991 M761 969 H777 M761 991 H777 M808 1098 V1104 M800 1098 H816 M800 1104 H816"/>
<text class="ct" x="690" y="1141">Sham</text><text class="ct" x="790" y="1141">TAC</text>

<!-- o -->
<text class="L" x="868" y="832">o</text><text class="ti" x="1035" y="822">Fbxo32</text>
<text class="pv" x="957" y="889"><tspan font-style="italic">P</tspan>=0.0068</text><line x1="975" y1="894" x2="1060" y2="894" class="sl"/>
<text class="pv" x="957" y="915"><tspan font-style="italic">P</tspan>=0.0098</text><line x1="1015" y1="921" x2="1060" y2="921" class="sl"/>
<text class="pv" x="1068" y="889"><tspan font-style="italic">P</tspan>=0.0025</text><line x1="1068" y1="894" x2="1100" y2="894" class="sl"/>
<path class="ax" d="M950 888 V1115 H1125 M945 888 H950 M945 933 H950 M945 979 H950 M945 1024 H950 M945 1069 H950 M945 1115 H950"/>
<text class="tk" x="946" y="898">10</text><text class="tk" x="945" y="943">8</text><text class="tk" x="945" y="989">6</text><text class="tk" x="945" y="1034">4</text><text class="tk" x="945" y="1079">2</text><text class="tk" x="945" y="1126">0</text>
<text class="yl" transform="translate(906,1010) rotate(-90)">Rel. mRNA level</text>
<rect x="958" y="1092" width="30" height="23" class="w"/><rect x="995" y="1089" width="30" height="26" class="k"/>
<rect x="1050" y="1013" width="30" height="102" class="w"/><rect x="1088" y="1101" width="30" height="14" class="k"/>
<circle cx="968" cy="1086" r="4.5"/><circle cx="978" cy="1090" r="4.5"/><circle cx="972" cy="1096" r="4.5"/><circle cx="982" cy="1100" r="4.5"/>
<circle cx="1014" cy="1038" r="4.5"/><circle cx="1004" cy="1094" r="4.5"/><circle cx="1012" cy="1100" r="4.5"/><circle cx="1020" cy="1098" r="4.5"/>
<circle cx="1067" cy="913" r="4.5"/><circle cx="1064" cy="968" r="4.5"/><circle cx="1070" cy="975" r="4.5"/><circle cx="1062" cy="996" r="4.5"/><circle cx="1068" cy="1034" r="4.5"/><circle cx="1064" cy="1060" r="4.5"/><circle cx="1066" cy="1100" r="4.5"/>
<circle cx="1104" cy="1072" r="4.5"/><circle cx="1098" cy="1098" r="4.5"/><circle cx="1108" cy="1106" r="4.5"/><circle cx="1100" cy="1110" r="4.5"/>
<path class="eb" d="M973 1087 V1096 M965 1087 H981 M965 1096 H981 M1010 1080 V1098 M1002 1080 H1018 M1002 1098 H1018 M1065 993 V1033 M1057 993 H1073 M1057 1033 H1073 M1103 1092 V1110 M1095 1092 H1111 M1095 1110 H1111"/>
<text class="ct" x="993" y="1141">Sham</text><text class="ct" x="1087" y="1141">TAC</text>

<!-- p -->
<text class="L" x="1153" y="832">p</text><text class="ti" x="1310" y="822">Trib3</text>
<text class="pv" x="1250" y="889"><tspan font-style="italic">P</tspan>=0.0399</text><line x1="1265" y1="894" x2="1350" y2="894" class="sl"/>
<text class="pv" x="1362" y="889"><tspan font-style="italic">P</tspan>=0.0006</text><line x1="1362" y1="894" x2="1400" y2="894" class="sl"/>
<path class="ax" d="M1238 884 V1114 H1418 M1233 884 H1238 M1233 930 H1238 M1233 976 H1238 M1233 1022 H1238 M1233 1068 H1238 M1233 1114 H1238"/>
<text class="tk" x="1233" y="894">5</text><text class="tk" x="1233" y="940">4</text><text class="tk" x="1233" y="986">3</text><text class="tk" x="1233" y="1032">2</text><text class="tk" x="1233" y="1078">1</text><text class="tk" x="1233" y="1125">0</text>
<text class="yl" transform="translate(1196,1005) rotate(-90)">Rel. mRNA level</text>
<rect x="1245" y="1068" width="30" height="46" class="w"/><rect x="1285" y="1055" width="30" height="59" class="k"/>
<rect x="1340" y="1025" width="30" height="89" class="w"/><rect x="1380" y="1096" width="30" height="18" class="k"/>
<circle cx="1260" cy="1050" r="4.5"/><circle cx="1256" cy="1066" r="4.5"/><circle cx="1264" cy="1070" r="4.5"/><circle cx="1258" cy="1078" r="4.5"/><circle cx="1254" cy="1084" r="4.5"/>
<circle cx="1300" cy="1042" r="4.5"/><circle cx="1300" cy="1058" r="4.5"/><circle cx="1296" cy="1064" r="4.5"/><circle cx="1300" cy="1076" r="4.5"/>
<circle cx="1355" cy="986" r="4.5"/><circle cx="1355" cy="1008" r="4.5"/><circle cx="1355" cy="1029" r="4.5"/><circle cx="1355" cy="1046" r="4.5"/><circle cx="1350" cy="1054" r="4.5"/><circle cx="1360" cy="1056" r="4.5"/><circle cx="1355" cy="1078" r="4.5"/>
<circle cx="1388" cy="1090" r="4.5"/><circle cx="1398" cy="1090" r="4.5"/><circle cx="1392" cy="1100" r="4.5"/><circle cx="1404" cy="1098" r="4.5"/>
<path class="eb" d="M1260 1063 V1073 M1252 1063 H1268 M1252 1073 H1268 M1300 1049 V1061 M1292 1049 H1308 M1292 1061 H1308 M1355 1011 V1039 M1347 1011 H1363 M1347 1039 H1363 M1395 1093 V1100 M1387 1093 H1403 M1387 1100 H1403"/>
<text class="ct" x="1280" y="1141">Sham</text><text class="ct" x="1375" y="1141">TAC</text>
<rect x="1393" y="920" width="23" height="24" class="w"/><text class="lg" x="1422" y="943">Wildtype</text>
<rect x="1393" y="955" width="23" height="24" class="k"/><text class="lg" x="1422" y="978">Thbs1<tspan font-size="17" dy="-12">-/-</tspan></text>
</svg>
</body></html>
